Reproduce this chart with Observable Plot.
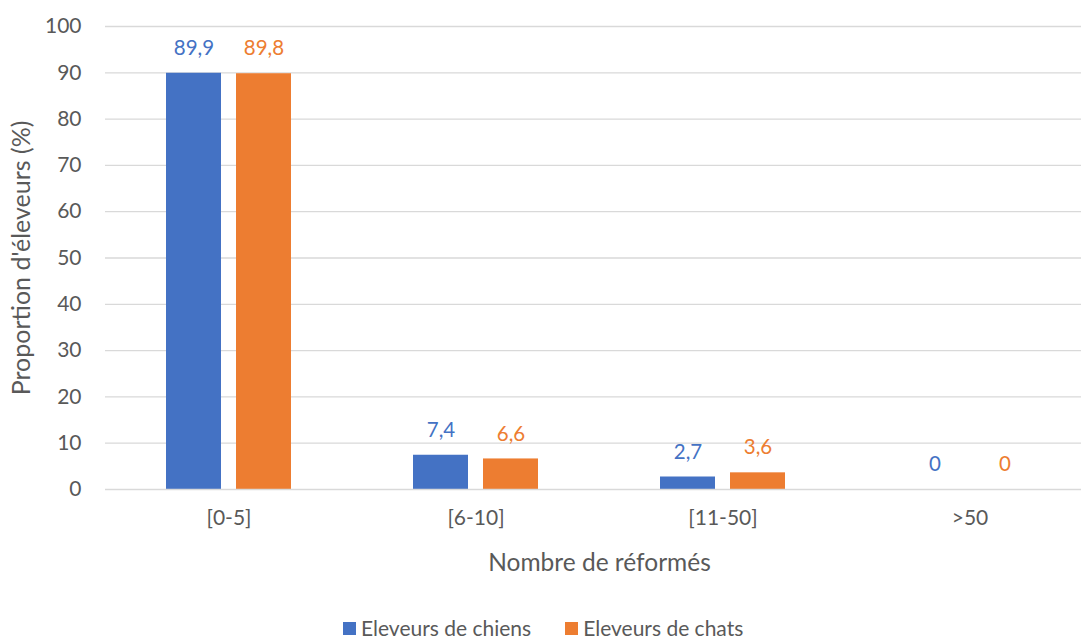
<!DOCTYPE html>
<html>
<head>
<meta charset="utf-8">
<script src="https://cdn.jsdelivr.net/npm/d3@7"></script>
<script src="https://cdn.jsdelivr.net/npm/@observablehq/plot@0.6"></script>
<style>
  body { margin: 0; background: #fff; font-family: Lato, "Open Sans", sans-serif; }
  #wrap { position: relative; width: 1081px; height: 639px; overflow: hidden; }
  #legend { position: absolute; left: 343px; top: 618px; height: 20px; line-height: 20px; display: flex; align-items: center; font-size: 21px; color: #595959; font-family: Lato, sans-serif; }
  .sw { width: 13px; height: 13px; display: inline-block; margin-right: 5px; }
  .item { display: flex; align-items: center; margin-right: 34px; }
</style>
</head>
<body>
<div id="wrap"></div>
<script>
const categories = ["[0-5]", "[6-10]", "[11-50]", ">50"];
const series = ["Eleveurs de chiens", "Eleveurs de chats"];
const chiens = [89.9, 7.4, 2.7, 0];
const chats = [89.8, 6.6, 3.6, 0];
const yTicks = [0, 10, 20, 30, 40, 50, 60, 70, 80, 90, 100];
const colors = ["#4472C4", "#ED7D31"];

const data = [];
categories.forEach((c, i) => {
  data.push({cat: c, series: series[0], value: chiens[i]});
  data.push({cat: c, series: series[1], value: chats[i]});
});
const fmt = v => String(v).replace(".", ",");

const chart = Plot.plot({
  width: 1081,
  height: 612,
  marginLeft: 104,
  marginRight: 0,
  marginTop: 26,
  marginBottom: 123,
  style: {fontFamily: "Lato, 'Open Sans', sans-serif", fontSize: "21px", color: "#595959", background: "#fff"},
  fx: {domain: categories, range: [104, 1094], padding: 0, label: null},
  x: {domain: series, range: [164.5, 290], paddingInner: 0.214, paddingOuter: 0, axis: null},
  y: {domain: [0, 100], label: null},
  color: {domain: series, range: colors},
  marks: [
    Plot.ruleY(yTicks.slice(1), {stroke: "#d9d9d9", strokeWidth: 1.3}),
    Plot.barY(data, {fx: "cat", x: "series", y: "value", fill: "series"}),
    Plot.ruleY([0], {stroke: "#d9d9d9", strokeWidth: 1.5}),
    Plot.text(data, {fx: "cat", x: "series", y: "value", text: d => fmt(d.value), fill: "series", dy: -25, fontSize: 20.5}),
    Plot.axisY({ticks: yTicks, tickSize: 0, tickPadding: 24, fontSize: 21, fill: "#595959"}),
    Plot.axisY({ticks: [], tickSize: 0, label: "Proportion d'éleveurs (%)", labelAnchor: "center", labelArrow: "none", labelOffset: 93, fontSize: 25, fill: "#595959"}),
    Plot.axisFx({anchor: "bottom", tickSize: 0, tickPadding: 21, fontSize: 21, fill: "#595959", label: null}),
    Plot.axisFx({anchor: "bottom", ticks: [], tickSize: 0, label: "Nombre de réformés", labelAnchor: "center", labelOffset: 81, fontSize: 24.5, fill: "#595959"})
  ]
});
document.getElementById("wrap").appendChild(chart);

const legend = document.createElement("div");
legend.id = "legend";
series.forEach((s, i) => {
  const item = document.createElement("span");
  item.className = "item";
  const sw = document.createElement("span");
  sw.className = "sw";
  sw.style.background = colors[i];
  item.appendChild(sw);
  item.appendChild(document.createTextNode(s));
  legend.appendChild(item);
});
document.getElementById("wrap").appendChild(legend);
</script>
</body>
</html>
